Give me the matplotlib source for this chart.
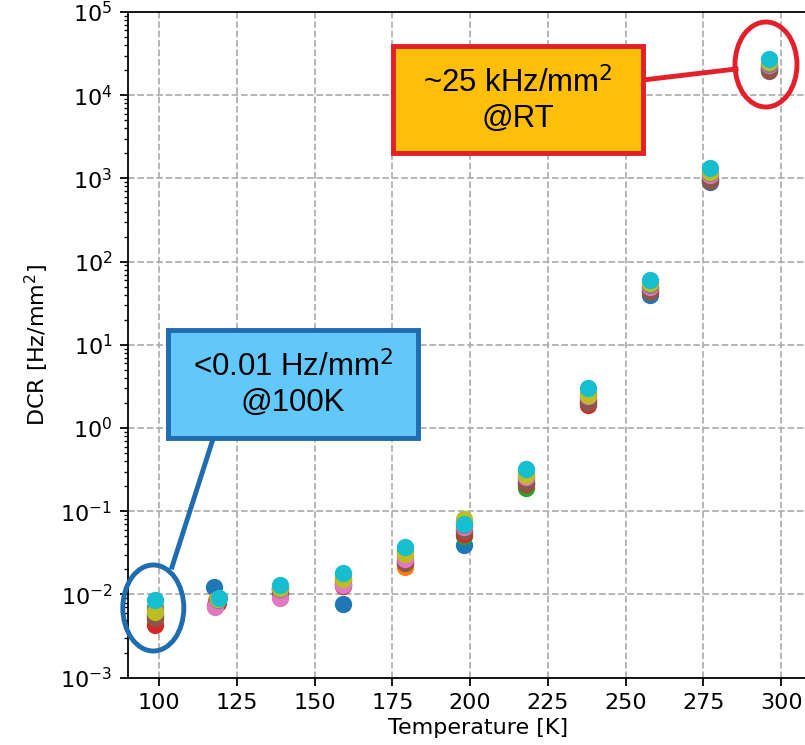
import matplotlib
matplotlib.use('Agg')
import matplotlib.pyplot as plt
from matplotlib.patches import Rectangle, Ellipse
from matplotlib.lines import Line2D

# temperatures of the measurement points [K]
temperature = [98.6, 118.5, 139, 159, 179, 198, 218, 238, 258, 277, 296]

# dark count rate [Hz/mm^2] for each of the 10 devices
dcr_0 = [0.0055, 0.0122, 0.0120, 0.0077, 0.023, 0.039, 0.22, 2.0, 40, 900, 20000]
dcr_1 = [0.0050, 0.0085, 0.0110, 0.0140, 0.0215, 0.075, 0.25, 2.2, 45, 1000, 21000]
dcr_2 = [0.0057, 0.0080, 0.0115, 0.0150, 0.026, 0.050, 0.19, 2.1, 47, 950, 20500]
dcr_3 = [0.0043, 0.0078, 0.0105, 0.0125, 0.025, 0.054, 0.21, 1.9, 44, 980, 21500]
dcr_4 = [0.0060, 0.0074, 0.0100, 0.0135, 0.029, 0.060, 0.24, 2.3, 48, 1050, 22000]
dcr_5 = [0.0052, 0.0082, 0.0105, 0.0130, 0.024, 0.058, 0.22, 2.0, 43, 920, 19500]
dcr_6 = [0.0066, 0.0071, 0.0090, 0.0130, 0.027, 0.064, 0.26, 2.4, 50, 1100, 23000]
dcr_7 = [0.0070, 0.0085, 0.0115, 0.0160, 0.033, 0.068, 0.28, 2.6, 52, 1150, 24000]
dcr_8 = [0.0062, 0.0088, 0.0120, 0.0155, 0.031, 0.080, 0.27, 2.5, 55, 1200, 25000]
dcr_9 = [0.0085, 0.0090, 0.0130, 0.0182, 0.037, 0.071, 0.32, 3.0, 60, 1350, 27000]
all_dcr = [dcr_0, dcr_1, dcr_2, dcr_3, dcr_4, dcr_5, dcr_6, dcr_7, dcr_8, dcr_9]

# second column is slightly spread in temperature
temp_118 = [117.6, 118.4, 118.6, 118.8, 118.0, 118.6, 117.9, 119.0, 119.0, 119.4]

W, H = 805, 745
fig = plt.figure(figsize=(W / 160, H / 160), dpi=160)
# axes run past the right edge of the picture (right spine cut off)
ax = fig.add_axes([128 / W, 1 - 677.7 / H, 700 / W, (677.7 - 12) / H])

for i, dcr in enumerate(all_dcr):
    x = list(temperature)
    x[1] = temp_118[i]
    ax.scatter(x, dcr, s=46, color='C%d' % i, zorder=3)

ax.set_yscale('log')
ax.set_ylim(1e-3, 1e5)
ax.set_xlim(90, 90 + 700 / 3.11)
ax.set_xticks([100, 125, 150, 175, 200, 225, 250, 275, 300])
ax.grid(True, linestyle='--', color='#b0b0b0')
ax.set_axisbelow(True)
ax.set_xlabel('Temperature [K]', labelpad=2)
ax.set_ylabel('DCR [Hz/mm$^2$]')


def fpt(x, y):
    # pixel position in the picture -> figure fraction
    return x / W, 1 - y / H


# room temperature callout
red = '#e3202a'
x0, y0 = fpt(393, 153)
fig.patches.append(Rectangle((x0, y0), 250 / W, 107 / H, transform=fig.transFigure,
                             facecolor='#ffbe0a', edgecolor=red, lw=2.2, zorder=5))
fig.text(*fpt(518, 100), '~25 kHz/mm$^2$\n@RT', transform=fig.transFigure,
         ha='center', va='center', fontsize=14, family='Liberation Sans',
         math_fontfamily='custom', linespacing=1.2, zorder=6)
fig.lines.append(Line2D(*zip(fpt(643, 80), fpt(736, 69)), transform=fig.transFigure,
                        color=red, lw=2.2, zorder=5))
fig.patches.append(Ellipse(fpt(766, 64.5), 62 / W, 85 / H, transform=fig.transFigure,
                           fill=False, edgecolor=red, lw=2.2, zorder=5))

# 100 K callout
blue = '#1f6db0'
x0, y0 = fpt(168, 438)
fig.patches.append(Rectangle((x0, y0), 250 / W, 108 / H, transform=fig.transFigure,
                             facecolor='#62c8fa', edgecolor=blue, lw=2.2, zorder=5))
fig.text(*fpt(293, 384), '<0.01 Hz/mm$^2$\n@100K', transform=fig.transFigure,
         ha='center', va='center', fontsize=14, family='Liberation Sans',
         math_fontfamily='custom', linespacing=1.2, zorder=6)
fig.lines.append(Line2D(*zip(fpt(213, 439), fpt(172, 567)), transform=fig.transFigure,
                        color=blue, lw=2.2, zorder=5))
fig.patches.append(Ellipse(fpt(153.3, 608), 61 / W, 86 / H, transform=fig.transFigure,
                           fill=False, edgecolor=blue, lw=2.2, zorder=5))

fig.savefig('out.png', dpi=160)
